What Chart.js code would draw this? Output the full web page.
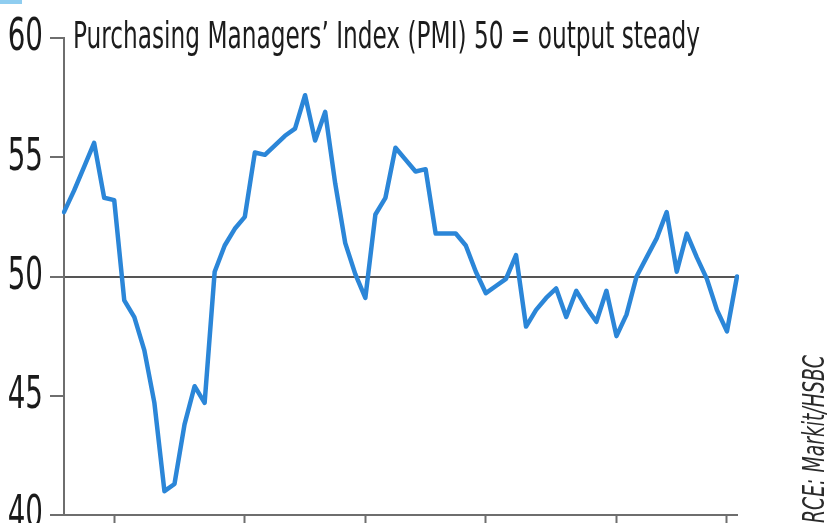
<!DOCTYPE html>
<html>
<head>
<meta charset="utf-8">
<script src="https://cdn.jsdelivr.net/npm/chart.js@4.4.1/dist/chart.umd.min.js"></script>
<style>
  html, body { margin: 0; padding: 0; background: #fff; }
  canvas { display: block; }
</style>
</head>
<body>
<canvas id="pmi" width="839" height="523"></canvas>
<script>
var months = [
  'Jan 08', 'Feb 08', 'Mar 08', 'Apr 08', 'May 08', 'Jun 08', 'Jul 08', 'Aug 08', 'Sep 08', 'Oct 08', 'Nov 08', 'Dec 08',
  'Jan 09', 'Feb 09', 'Mar 09', 'Apr 09', 'May 09', 'Jun 09', 'Jul 09', 'Aug 09', 'Sep 09', 'Oct 09', 'Nov 09', 'Dec 09',
  'Jan 10', 'Feb 10', 'Mar 10', 'Apr 10', 'May 10', 'Jun 10', 'Jul 10', 'Aug 10', 'Sep 10', 'Oct 10', 'Nov 10', 'Dec 10',
  'Jan 11', 'Feb 11', 'Mar 11', 'Apr 11', 'May 11', 'Jun 11', 'Jul 11', 'Aug 11', 'Sep 11', 'Oct 11', 'Nov 11', 'Dec 11',
  'Jan 12', 'Feb 12', 'Mar 12', 'Apr 12', 'May 12', 'Jun 12', 'Jul 12', 'Aug 12', 'Sep 12', 'Oct 12', 'Nov 12', 'Dec 12',
  'Jan 13', 'Feb 13', 'Mar 13', 'Apr 13', 'May 13', 'Jun 13', 'Jul 13', 'Aug 13'
];

var pmi = [
  52.7, 53.6, 54.6, 55.6, 53.3, 53.2, 49.0, 48.3, 46.9, 44.7, 41.0, 41.3,
  43.8, 45.4, 44.7, 50.2, 51.3, 52.0, 52.5, 55.2, 55.1, 55.5, 55.9, 56.2,
  57.6, 55.7, 56.9, 53.9, 51.4, 50.1, 49.1, 52.6, 53.3, 55.4, 54.9, 54.4,
  54.5, 51.8, 51.8, 51.8, 51.3, 50.2, 49.3, 49.6, 49.9, 50.9, 47.9, 48.6,
  49.1, 49.5, 48.3, 49.4, 48.7, 48.1, 49.4, 47.5, 48.4, 50.0, 50.8, 51.6,
  52.7, 50.2, 51.8, 50.8, 49.9, 48.6, 47.7, 50.0
];

// months that carry a tick mark on the bottom axis
var yearMarks = [5, 18, 30, 42, 55, 66];

var yTicks = [40, 45, 50, 55, 60];
var steadyLevel = 50;

var titleText = 'Purchasing Managers\u2019 Index (PMI) 50 = output steady';
var sourceText = 'SOURCE: Markit/HSBC';

var narrow = '"DejaVu Sans Condensed", "Liberation Sans Narrow", sans-serif';

var textPlugin = {
  id: 'texts',
  beforeDraw: function(chart) {
    var ctx = chart.ctx;
    ctx.save();
    ctx.fillStyle = '#ffffff';
    ctx.fillRect(0, 0, chart.width, chart.height);
    // sliver of the headline block cut off at the top
    ctx.fillStyle = '#8fcdf0';
    ctx.fillRect(0, 0, 22, 4);
    ctx.restore();
  },
  afterDraw: function(chart) {
    var ctx = chart.ctx, w, f, y, i;
    var yScale = chart.scales.y;

    // y labels, squeezed to the narrow newspaper face
    ctx.save();
    ctx.fillStyle = '#1a1a1a';
    ctx.font = '44px ' + narrow;
    ctx.textAlign = 'right';
    ctx.textBaseline = 'middle';
    for (i = 0; i < yTicks.length; i++) {
      y = yScale.getPixelForValue(yTicks[i]);
      ctx.save();
      ctx.translate(43, y + 1);
      ctx.scale(0.7, 1);
      ctx.fillText(String(yTicks[i]), 0, 0);
      ctx.restore();
    }
    ctx.restore();

    ctx.save();
    ctx.fillStyle = '#1c1c1c';
    ctx.font = '500 38px ' + narrow;
    ctx.textBaseline = 'alphabetic';
    w = ctx.measureText(titleText).width;
    f = 627 / w;
    ctx.translate(73, 48);
    ctx.scale(f, 1);
    ctx.fillText(titleText, 0, 0);
    ctx.restore();

    // rotated source credit, its start runs off the bottom edge
    ctx.save();
    ctx.fillStyle = '#2a2a2a';
    ctx.font = 'italic 30px ' + narrow;
    w = ctx.measureText('RCE: Markit/HSBC').width;
    f = 168 / w;
    ctx.translate(824, 355);
    ctx.rotate(-Math.PI / 2);
    ctx.scale(f, 1);
    ctx.textAlign = 'right';
    ctx.fillText(sourceText, 0, 0);
    ctx.restore();
  }
};

var chart = new Chart(document.getElementById('pmi'), {
  type: 'line',
  data: {
    labels: months,
    datasets: [{
      data: pmi,
      borderColor: '#2b86d8',
      borderWidth: 4.5,
      pointRadius: 0,
      tension: 0,
      fill: false,
      borderJoinStyle: 'round',
      borderCapStyle: 'round'
    }]
  },
  options: {
    responsive: false,
    animation: false,
    layout: { padding: { top: 38, right: 102, left: 0, bottom: 0 } },
    plugins: {
      legend: { display: false },
      tooltip: { enabled: false }
    },
    scales: {
      x: {
        type: 'category',
        offset: false,
        border: { color: '#6e6e6e', width: 2 },
        grid: {
          drawOnChartArea: false,
          tickLength: 10,
          tickWidth: 2,
          tickColor: function(c) {
            return yearMarks.indexOf(c.index) >= 0 ? '#6e6e6e' : 'rgba(0,0,0,0)';
          }
        },
        ticks: { display: false, autoSkip: false },
        afterFit: function(s) { s.height = 8; }
      },
      y: {
        min: 40,
        max: 60,
        afterBuildTicks: function(s) {
          s.ticks = yTicks.map(function(v) { return { value: v }; });
        },
        border: { color: '#6e6e6e', width: 2 },
        grid: {
          lineWidth: 2,
          tickLength: 14,
          tickWidth: 2,
          tickColor: '#6e6e6e',
          color: function(c) {
            return c.tick && c.tick.value === steadyLevel ? '#555555' : 'rgba(0,0,0,0)';
          }
        },
        ticks: { display: false },
        afterFit: function(s) { s.width = 64; }
      }
    }
  },
  plugins: [textPlugin]
});
</script>
</body>
</html>
